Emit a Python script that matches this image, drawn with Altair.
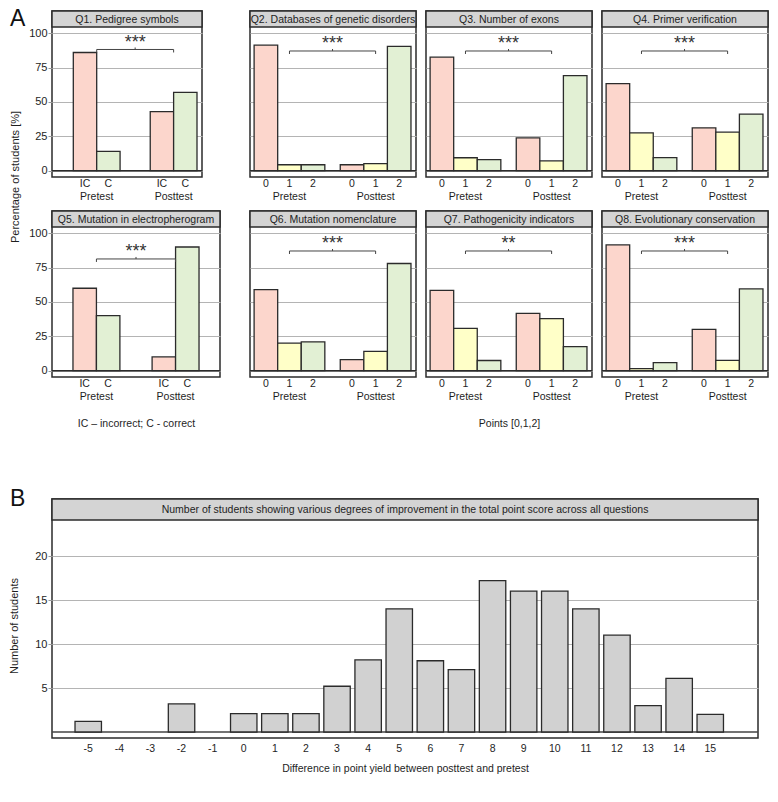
import altair as alt
import pandas as pd

# ---------------- data ----------------
tests = ["Pretest", "Posttest"]
binary_cats = ["IC", "C"]
point_cats = ["0", "1", "2"]

q_titles = [
    "Q1. Pedigree symbols",
    "Q2. Databases of genetic disorders",
    "Q3. Number of exons",
    "Q4. Primer verification",
    "Q5. Mutation in electropherogram",
    "Q6. Mutation nomenclature",
    "Q7. Pathogenicity indicators",
    "Q8. Evolutionary conservation",
]
q_signif = ["***", "***", "***", "***", "***", "***", "**", "***"]

q1_pre, q1_post = [86.0, 14.0], [43.0, 57.0]
q2_pre, q2_post = [91.3, 4.3, 4.3], [4.3, 5.2, 90.5]
q3_pre, q3_post = [82.6, 9.4, 8.0], [23.8, 7.1, 69.1]
q4_pre, q4_post = [63.4, 27.5, 9.5], [31.2, 28.0, 41.2]
q5_pre, q5_post = [60.0, 40.0], [10.0, 90.0]
q6_pre, q6_post = [59.0, 20.0, 21.0], [8.0, 14.0, 78.0]
q7_pre, q7_post = [58.5, 30.8, 7.4], [41.7, 37.9, 17.5]
q8_pre, q8_post = [91.5, 1.5, 5.8], [30.1, 7.5, 59.5]

pct_ticks = [0, 25, 50, 75, 100]

diff_values = [-5, -4, -3, -2, -1, 0, 1, 2, 3, 4, 5, 6, 7, 8, 9, 10, 11, 12, 13, 14, 15]
diff_counts = [1.2, 0, 0, 3.2, 0, 2.1, 2.1, 2.1, 5.2, 8.2, 14.0, 8.1, 7.1, 17.2, 16.0, 16.0, 14.0, 11.0, 3.0, 6.1, 2.0]
count_ticks = [5, 10, 15, 20]

# ---------------- styling ----------------
FONT = "Liberation Sans"
PINK, YELLOW, GREEN = "#fcd6cc", "#ffffc8", "#e2f0d4"
GRAYBAR = "#d1d1d1"
EDGE = "#2b2b2b"
TXT = "#1e1e1e"
GRID = "#b4b4b4"
HDR_FILL = "#d4d4d4"
PANEL_H = 166
HDR_H = 16
Y_DOMAIN = [-4.6, 116.2]
PX = 1.374  # pixels per percentage point
LEFT_EXT = -24  # common left extent of the first panel of every row

color_scale = alt.Scale(domain=["IC", "C", "0", "1", "2"],
                        range=[PINK, GREEN, PINK, YELLOW, GREEN])
one = pd.DataFrame({"k": [0]})


def left_marker():
    # invisible hairline that gives every left-most panel the same left extent
    return alt.Chart(one).mark_rule(strokeOpacity=0, strokeWidth=0.1).encode(
        x=alt.value(LEFT_EXT), y=alt.value(5), y2=alt.value(6))


def band_mid(width, p_inner, p_outer, align, n=2):
    step = width / (n - p_inner + 2 * p_outer)
    start = (width - step * (n - p_inner)) * align
    bw = step * (1 - p_inner)
    centers = [start + i * step + bw / 2 for i in range(n)]
    return sum(centers) / n


def panel(title, pre, post, cats, sig, width, p_inner, p_outer, align, y_labels, x_title,
          bracket=87.1, extra=()):
    df = pd.DataFrame({
        "test": [tests[0]] * len(cats) + [tests[1]] * len(cats),
        "pts": cats + cats,
        "pct": pre + post,
    })
    xsc = alt.Scale(domain=tests, paddingInner=p_inner, paddingOuter=p_outer, align=align)
    osc = alt.Scale(domain=cats, paddingInner=0, paddingOuter=0)
    ysc = alt.Scale(domain=Y_DOMAIN, nice=False, zero=False)
    if y_labels:
        yax = alt.Axis(values=pct_ticks, title=None, grid=True, gridColor=GRID, gridWidth=1,
                       domain=False, ticks=True, tickSize=4, tickColor="#999999",
                       labelFontSize=11, labelPadding=1, labelColor=TXT)
    else:
        yax = alt.Axis(values=pct_ticks, title=None, grid=True, gridColor=GRID, gridWidth=1,
                       domain=False, ticks=False, labels=False)
    xkw = dict(ticks=False, tickSize=0, domain=False, grid=False, labelPadding=14,
               labelFontSize=10.5, labelColor=TXT, labelAngle=0)
    if x_title:
        xax = alt.Axis(title=x_title, titleFontSize=10.5, titleFontWeight="normal",
                       titleColor=TXT, titlePadding=17, **xkw)
    else:
        xax = alt.Axis(title=None, **xkw)
    X = alt.X("test:N", scale=xsc, sort=tests, axis=xax)
    XO = alt.XOffset("pts:N", scale=osc, sort=cats)
    Y = alt.Y("pct:Q", scale=ysc, axis=yax)

    bars = alt.Chart(df).mark_bar(stroke=EDGE, strokeWidth=1.3).encode(
        x=X, xOffset=XO, y=Y,
        color=alt.Color("pts:N", scale=color_scale, legend=None))
    zero = alt.Chart(one).mark_rule(color=EDGE, strokeWidth=1.5).encode(y=alt.datum(0))
    cat_lbl = alt.Chart(df).mark_text(fontSize=10.5, baseline="middle", color=TXT).encode(
        x=X, xOffset=XO, y=alt.value(PANEL_H + 7), text="pts:N")
    hdr = alt.Chart(one).mark_rect(fill=HDR_FILL, stroke=EDGE, strokeWidth=1.5).encode(
        x=alt.value(0), x2=alt.value(width), y=alt.value(0), y2=alt.value(HDR_H))
    hdr_txt = alt.Chart(one).mark_text(fontSize=10.5, baseline="middle", color=TXT).encode(
        x=alt.value(width / 2), y=alt.value(HDR_H / 2 + 0.5), text=alt.value(title))

    br = pd.DataFrame({"test": tests, "yb": [bracket] * 2, "ye": [bracket - 3 / PX] * 2})
    br_line = alt.Chart(br).mark_line(color="#444444", strokeWidth=1).encode(
        x=alt.X("test:N", sort=tests), y=alt.Y("yb:Q", scale=ysc, axis=yax))
    br_ends = alt.Chart(br).mark_rule(color="#444444", strokeWidth=1).encode(
        x=alt.X("test:N", sort=tests), y=alt.Y("yb:Q", scale=ysc, axis=yax), y2="ye:Q")
    mid = band_mid(width, p_inner, p_outer, align)
    br_mid = alt.Chart(one).mark_rule(color="#444444", strokeWidth=1).encode(
        x=alt.value(mid), y=alt.datum(bracket), y2=alt.datum(bracket + 2 / PX))
    star = alt.Chart(one).mark_text(fontSize=18, baseline="alphabetic", color="#333333").encode(
        x=alt.value(mid), y=alt.datum(bracket + 1.5 / PX), text=alt.value(sig))

    return alt.layer(bars, zero, cat_lbl, br_line, br_ends, br_mid, star, hdr, hdr_txt, *extra).properties(
        width=width, height=PANEL_H)


BIN1 = dict(width=150, p_inner=0.392, p_outer=0.171, align=0.81)
BIN5 = dict(width=168, p_inner=0.407, p_outer=0.265, align=0.5)
PTS = dict(width=166, p_inner=0.179, p_outer=0.053, align=0.45)

q1 = panel(q_titles[0], q1_pre, q1_post, binary_cats, q_signif[0], y_labels=True, x_title=None,
           bracket=88.2, extra=(left_marker(),), **BIN1)
q2 = panel(q_titles[1], q2_pre, q2_post, point_cats, q_signif[1], y_labels=False, x_title=None, **PTS)
q3 = panel(q_titles[2], q3_pre, q3_post, point_cats, q_signif[2], y_labels=False, x_title=None, **PTS)
q4 = panel(q_titles[3], q4_pre, q4_post, point_cats, q_signif[3], y_labels=False, x_title=None, **PTS)
q5 = panel(q_titles[4], q5_pre, q5_post, binary_cats, q_signif[4], y_labels=True,
           x_title="IC \u2013 incorrect; C - correct", bracket=81.3, extra=(left_marker(),), **BIN5)
q6 = panel(q_titles[5], q6_pre, q6_post, point_cats, q_signif[5], y_labels=False, x_title=None, **PTS)
q7 = panel(q_titles[6], q7_pre, q7_post, point_cats, q_signif[6], y_labels=False,
           x_title="Points [0,1,2]", **PTS)
q8 = panel(q_titles[7], q8_pre, q8_post, point_cats, q_signif[7], y_labels=False, x_title=None, **PTS)

IND = dict(x="independent", y="independent", xOffset="independent")
row1 = alt.hconcat(q1, alt.hconcat(q2, q3, q4, spacing=6).resolve_scale(**IND), spacing=44).resolve_scale(**IND)
row2 = alt.hconcat(q5, alt.hconcat(q6, q7, q8, spacing=6).resolve_scale(**IND), spacing=26).resolve_scale(**IND)
grid = alt.vconcat(row1, row2, spacing=6).resolve_scale(**IND)

# left strip of panel A: letter and shared y title
COL_W = 17
letter_a = alt.Chart(one).mark_text(fontSize=23, align="left", baseline="alphabetic", color="#111111").encode(
    x=alt.value(0), y=alt.value(15), text=alt.value("A"))
ytitle_a = alt.Chart(one).mark_text(fontSize=11, angle=270, baseline="middle", color=TXT).encode(
    x=alt.value(6), y=alt.value(166), text=alt.value("Percentage of students  [%]"))
col_a = alt.layer(letter_a, ytitle_a).properties(width=COL_W, height=300,
                                                 view=alt.ViewBackground(strokeOpacity=0))
section_a = alt.hconcat(col_a, grid, spacing=0).resolve_scale(**IND)

# ---------------- panel B ----------------
B_W, B_H, B_HDR = 706, 239, 21
dfb = pd.DataFrame({"diff": diff_values, "n": diff_counts})
yscB = alt.Scale(domain=[-0.68, 26.48], nice=False, zero=False)
xscB = alt.Scale(domain=diff_values, paddingInner=0.15, paddingOuter=0.925, align=0.4)
yaxB = alt.Axis(values=count_ticks, title=None, grid=True, gridColor=GRID, gridWidth=1,
                domain=False, ticks=True, tickSize=4, tickColor="#999999", labelFontSize=11,
                labelPadding=1, labelColor=TXT)
xaxB = alt.Axis(title="Difference in point yield between posttest and pretest", labelAngle=0,
                ticks=False, tickSize=0, domain=False, grid=False, labelPadding=5,
                labelFontSize=10.5, labelColor=TXT, titleFontSize=10.5, titleFontWeight="normal",
                titleColor=TXT, titlePadding=10)
barsB = alt.Chart(dfb).transform_filter("datum.n > 0").mark_bar(
    fill=GRAYBAR, stroke=EDGE, strokeWidth=1.3).encode(
    x=alt.X("diff:O", scale=xscB, sort=diff_values, axis=xaxB),
    y=alt.Y("n:Q", scale=yscB, axis=yaxB))
zeroB = alt.Chart(one).mark_rule(color="#444444", strokeWidth=1.5).encode(y=alt.datum(0))
hdrB = alt.Chart(one).mark_rect(fill=HDR_FILL, stroke=EDGE, strokeWidth=1.5).encode(
    x=alt.value(0), x2=alt.value(B_W), y=alt.value(0), y2=alt.value(B_HDR))
hdrB_txt = alt.Chart(one).mark_text(fontSize=10.5, baseline="middle", color=TXT).encode(
    x=alt.value(B_W / 2), y=alt.value(B_HDR / 2 + 0.5),
    text=alt.value("Number of students showing various degrees of improvement in the total point score across all questions"))
chart_b = alt.layer(zeroB, barsB, hdrB, hdrB_txt, left_marker()).properties(width=B_W, height=B_H)

letter_b = alt.Chart(one).mark_text(fontSize=23, align="left", baseline="alphabetic", color="#111111").encode(
    x=alt.value(0), y=alt.value(7), text=alt.value("B"))
ytitle_b = alt.Chart(one).mark_text(fontSize=11, angle=270, baseline="middle", color=TXT).encode(
    x=alt.value(5), y=alt.value(127), text=alt.value("Number of students"))
col_b = alt.layer(letter_b, ytitle_b).properties(width=COL_W, height=200,
                                                 view=alt.ViewBackground(strokeOpacity=0))
section_b = alt.hconcat(col_b, chart_b, spacing=0).resolve_scale(**IND)

chart = alt.vconcat(section_a, section_b, spacing=58).resolve_scale(**IND).properties(padding=0)
chart = chart.configure(font=FONT).configure_view(stroke=EDGE, strokeWidth=1.5)

chart.save("out.html", embed_options={"renderer": "svg", "actions": False})
